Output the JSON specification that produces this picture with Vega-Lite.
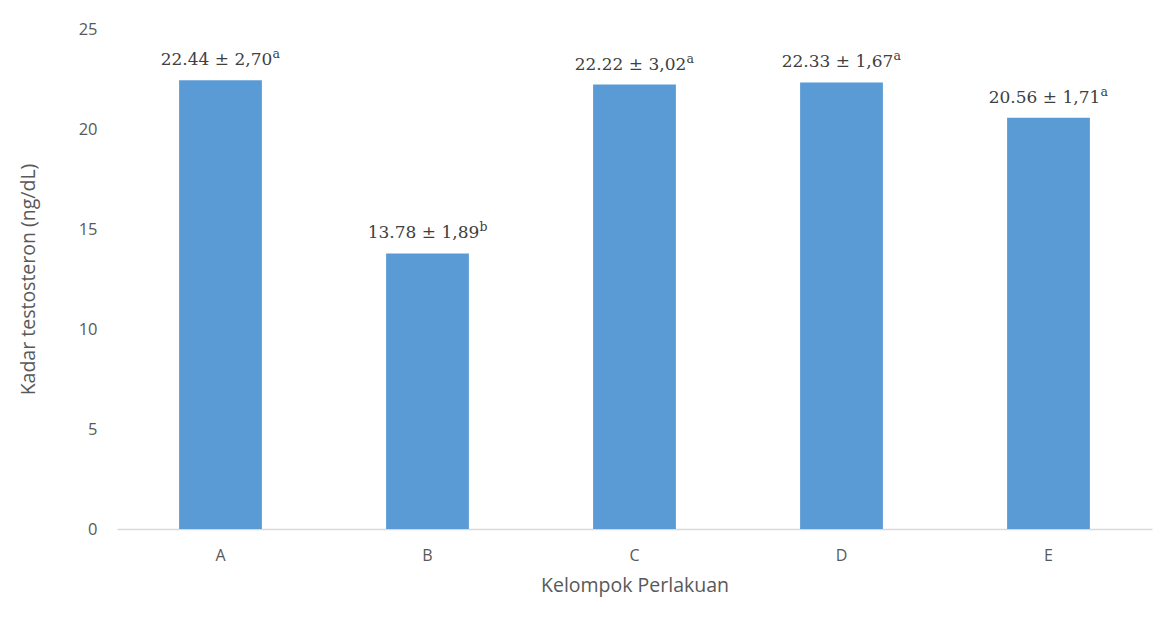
{
  "$schema": "https://vega.github.io/schema/vega-lite/v6.json",
  "width": 1035,
  "height": 500,
  "autosize": {"type": "none"},
  "padding": {"left": 117, "top": 29, "right": 22, "bottom": 97},
  "background": "white",
  "config": {"view": {"stroke": null}},
  "data": {
    "values": [
      {"kelompok": "A", "kadar": 22.44, "label": "22.44 ± 2,70", "sup": "a"},
      {"kelompok": "B", "kadar": 13.78, "label": "13.78 ± 1,89", "sup": "b"},
      {"kelompok": "C", "kadar": 22.22, "label": "22.22 ± 3,02", "sup": "a"},
      {"kelompok": "D", "kadar": 22.33, "label": "22.33 ± 1,67", "sup": "a"},
      {"kelompok": "E", "kadar": 20.56, "label": "20.56 ± 1,71", "sup": "a"}
    ]
  },
  "encoding": {
    "x": {
      "field": "kelompok",
      "type": "nominal",
      "scale": {"paddingInner": 0.6, "paddingOuter": 0.3},
      "axis": {
        "title": "Kelompok Perlakuan",
        "labelAngle": 0,
        "ticks": false,
        "domainColor": "#d9d9d9",
        "domainWidth": 1.5,
        "labelFont": "Open Sans",
        "labelFontSize": 16,
        "labelColor": "#595959",
        "labelPadding": 18,
        "titleFont": "Open Sans",
        "titleFontSize": 19.5,
        "titleFontWeight": "normal",
        "titleColor": "#595959",
        "titlePadding": 13
      }
    },
    "y": {
      "field": "kadar",
      "type": "quantitative",
      "scale": {"domain": [0, 25]},
      "axis": {
        "title": "Kadar testosteron (ng/dL)",
        "values": [0, 5, 10, 15, 20, 25],
        "grid": false,
        "domain": false,
        "ticks": false,
        "labelFont": "Open Sans",
        "labelFontSize": 16.5,
        "labelColor": "#595959",
        "labelPadding": 20,
        "titleFont": "Open Sans",
        "titleFontSize": 19.5,
        "titleFontWeight": "normal",
        "titleColor": "#595959",
        "titlePadding": 40
      }
    }
  },
  "layer": [
    {
      "mark": {"type": "bar", "color": "#5B9BD5"}
    },
    {
      "mark": {
        "type": "text",
        "font": "DejaVu Serif",
        "fontSize": 17,
        "color": "#404040",
        "baseline": "alphabetic",
        "align": "center",
        "dx": -4,
        "dy": -15
      },
      "encoding": {"text": {"field": "label"}}
    },
    {
      "mark": {
        "type": "text",
        "font": "DejaVu Serif",
        "fontSize": 12.5,
        "color": "#404040",
        "baseline": "alphabetic",
        "align": "left",
        "dx": 52,
        "dy": -22
      },
      "encoding": {"text": {"field": "sup"}}
    }
  ]
}
